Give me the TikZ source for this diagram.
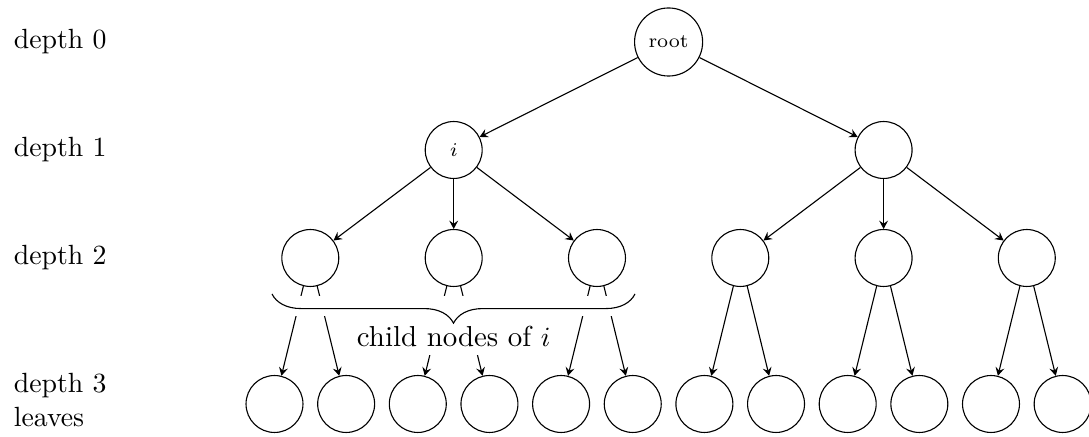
\documentclass[tikz,border=0pt]{standalone}
\usetikzlibrary{decorations.pathreplacing,arrows.meta}
\begin{document}
\begin{tikzpicture}[x=0.36pt,y=-0.36pt,
  vertex/.style={draw,circle,minimum size=20.5pt,inner sep=0pt},
  edge/.style={-{Stealth[length=3pt,width=3.2pt,inset=1.1pt]}},
  lvl/.style={anchor=west,align=left}]
\useasboundingbox (0,0) rectangle (1089,437);

% level labels
\node[lvl] (l0) at (4,42) {depth 0};
\node[lvl] (l1) at (4,150) {depth 1};
\node[lvl] (l2) at (4,258) {depth 2};
\node[lvl] (l3) at (4,400) {depth 3\\leaves};

% tree nodes
\node[vertex,minimum size=24.5pt,font=\scriptsize] (root) at (668.6,42) {root};
\node[vertex] (a) at (453.7,150) {\scriptsize$i$};
\node[vertex] (b) at (883.6,150) {};
\foreach \k/\x in {1/310.3,2/453.7,3/597,4/740.3,5/883.6,6/1026.8}
  \node[vertex] (c\k) at (\x,258) {};
\foreach \k in {1,...,12}
  \node[vertex] (d\k) at ({274.5+71.65*(\k-1)},404) {};

% connectors
\draw[edge] (root) -- (a);
\draw[edge] (root) -- (b);
\foreach \k in {1,2,3} \draw[edge] (a) -- (c\k);
\foreach \k in {4,5,6} \draw[edge] (b) -- (c\k);
\foreach \k [evaluate=\k as \m using int(2*\k-1), evaluate=\k as \n using int(2*\k)] in {1,...,6} {
  \draw[edge] (c\k) -- (d\m);
  \draw[edge] (c\k) -- (d\n);
}

% brace over the children of i, on a white band that hides the edges below it
\fill[white] (266,296) rectangle (641,316);
\fill[white] (355,296) rectangle (552,355);
\coordinate (bl) at (272,294);
\coordinate (br) at (635,294);
\draw[decorate,decoration={brace,mirror,amplitude=10.5pt}] (bl) -- (br);
\node[anchor=base,inner sep=0pt,font=\fontsize{10.4}{12}\selectfont] (lab) at (453.7,347) {child nodes of $i$};
\end{tikzpicture}
\end{document}
